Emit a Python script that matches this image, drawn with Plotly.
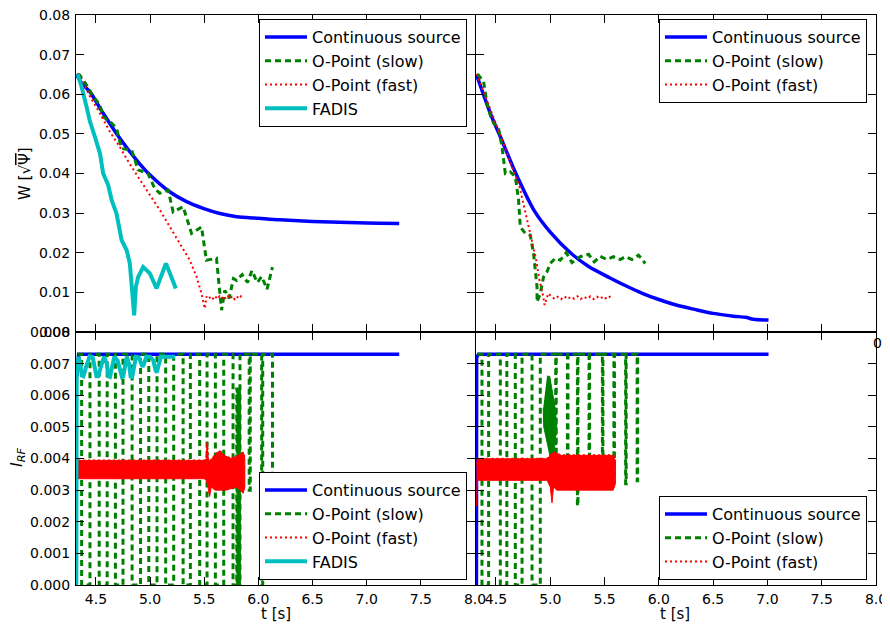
import plotly.graph_objects as go

# ---------------- data: W (top panels) ----------------
# left panel
contL_W_t = [4.319, 4.368, 4.445, 4.567, 4.72, 4.875, 5.0, 5.18, 5.337, 5.49, 5.645, 5.80, 6.0, 6.2, 6.5, 7.0, 7.3]
contL_W   = [0.0651, 0.0628, 0.0606, 0.0552, 0.0489, 0.0434, 0.0396, 0.0354, 0.0329, 0.0312, 0.0299, 0.0291, 0.0287, 0.0283, 0.0279, 0.0275, 0.0274]

slowL_W_t = [4.33, 4.352, 4.414, 4.475, 4.537, 4.567, 4.63, 4.69, 4.737, 4.83, 4.89, 4.98, 5.044, 5.09, 5.167,
             5.213, 5.305, 5.383, 5.475, 5.52, 5.613, 5.66, 5.69, 5.73, 5.77, 5.80, 5.85, 5.90, 5.94, 5.99, 6.03, 6.08, 6.13]
slowL_W   = [0.0651, 0.0648, 0.0623, 0.0594, 0.0573, 0.0543, 0.0531, 0.0514, 0.0463, 0.0459, 0.0409, 0.0400, 0.0362, 0.0350, 0.0358,
             0.0303, 0.0316, 0.0249, 0.0265, 0.0181, 0.0186, 0.0055, 0.0105, 0.0085, 0.0135, 0.0130, 0.0145, 0.0125, 0.0155, 0.0125, 0.0140, 0.0108, 0.0164]

fastL_W_t = [4.33, 4.352, 4.445, 4.537, 4.63, 4.72, 4.81, 4.906, 5.0, 5.09, 5.18, 5.275, 5.367, 5.43, 5.475, 5.505,
             5.52, 5.54, 5.56, 5.58, 5.60, 5.62, 5.64, 5.66, 5.68, 5.70, 5.72, 5.74, 5.76, 5.78, 5.80, 5.82, 5.84, 5.86]
fastL_W   = [0.0651, 0.0648, 0.0594, 0.0552, 0.0505, 0.0467, 0.0425, 0.0383, 0.0345, 0.0308, 0.0265, 0.0223, 0.0181, 0.0139, 0.0097, 0.0059,
             0.0089, 0.0083, 0.0090, 0.0084, 0.0091, 0.0083, 0.0090, 0.0084, 0.0091, 0.0083, 0.0090, 0.0084, 0.0091, 0.0083, 0.0090, 0.0084, 0.0090, 0.0087]

fadis_W_t = [4.33, 4.368, 4.414, 4.445, 4.49, 4.537, 4.567, 4.613, 4.645, 4.69, 4.737, 4.783, 4.813, 4.835, 4.853, 4.869,
             4.89, 4.936, 4.998, 5.06, 5.106, 5.146, 5.183, 5.238]
fadis_W   = [0.0651, 0.0619, 0.0568, 0.0531, 0.0493, 0.0451, 0.0400, 0.0371, 0.0333, 0.0299, 0.0232, 0.0207, 0.0173, 0.0114, 0.0042, 0.0114,
             0.0139, 0.0164, 0.0148, 0.0110, 0.0148, 0.0173, 0.0148, 0.0110]

# right panel
contR_W_t = [4.319, 4.448, 4.549, 4.68, 4.855, 5.0, 5.193, 5.35, 5.546, 5.70, 5.853, 6.0, 6.16, 6.33, 6.5, 6.688, 6.80, 6.87, 7.01]
contR_W   = [0.0651, 0.0552, 0.0487, 0.0402, 0.0305, 0.0252, 0.0198, 0.0166, 0.0137, 0.0116, 0.0097, 0.0082, 0.0068, 0.0057, 0.0047, 0.0040, 0.0037, 0.0032, 0.0030]

slowR_W_t = [4.33, 4.386, 4.417, 4.448, 4.478, 4.524, 4.555, 4.586, 4.632, 4.678, 4.708, 4.724, 4.77, 4.816, 4.846, 4.862, 4.878,
             4.878, 4.908, 4.938, 4.97, 5.0, 5.046, 5.092, 5.147, 5.2, 5.276, 5.353, 5.405, 5.46, 5.52, 5.583, 5.645, 5.69, 5.752, 5.813, 5.875]
slowR_W   = [0.0651, 0.0632, 0.0577, 0.0547, 0.0527, 0.0514, 0.0468, 0.0400, 0.0404, 0.0392, 0.0333, 0.0265, 0.0249, 0.0244, 0.0198, 0.0156, 0.0114,
             0.0076, 0.0097, 0.0139, 0.0152, 0.0173, 0.0186, 0.0181, 0.0200, 0.0175, 0.0190, 0.0196, 0.0177, 0.0191, 0.0183, 0.0190, 0.0183, 0.0190, 0.0183, 0.0194, 0.0173]

fastR_W_t = [4.319, 4.417, 4.487, 4.625, 4.717, 4.78, 4.825, 4.871, 4.90, 4.93, 4.948, 4.98, 5.016,
             5.04, 5.07, 5.10, 5.13, 5.16, 5.19, 5.22, 5.25, 5.28, 5.31, 5.34, 5.37, 5.40, 5.43, 5.46, 5.49, 5.52, 5.55, 5.577]
fastR_W   = [0.0651, 0.0585, 0.0535, 0.0434, 0.0366, 0.0291, 0.0240, 0.0181, 0.0131, 0.0097, 0.0068, 0.0097, 0.0089,
             0.0083, 0.0089, 0.0083, 0.0090, 0.0083, 0.0089, 0.0084, 0.0090, 0.0083, 0.0089, 0.0084, 0.0090, 0.0083, 0.0089, 0.0084, 0.0090, 0.0083, 0.0089, 0.0086]

# ---------------- data: I_RF (bottom panels) ----------------
contL_I_t = [4.325, 4.33, 4.34, 7.30]
contL_I   = [0.0066, 0.0070, 0.0073, 0.0073]
contR_I_t = [4.32, 4.322, 4.34, 7.01]
contR_I   = [0.0, 0.0072, 0.0073, 0.0073]

# slow O-point: start level, switch times and level after each switch
slowL_I_start = (4.33, 0.0073)
slowL_I_t = [4.368, 4.445, 4.53, 4.604, 4.68, 4.75, 4.834, 4.912, 4.988, 5.064, 5.144, 5.218, 5.305, 5.372, 5.458, 5.526,
             5.603, 5.68, 5.766, 5.80, 5.805, 5.81, 5.815, 5.82, 5.825, 5.83, 5.915, 5.925, 6.03, 6.04, 6.13]
slowL_I   = [0.0, 0.0073, 0.0, 0.0073, 0.0, 0.0073, 0.0, 0.0073, 0.0, 0.0073, 0.0, 0.0073, 0.0, 0.0073, 0.0, 0.0073,
             0.0, 0.0073, 0.0, 0.0062, 0.0, 0.0062, 0.0, 0.0062, 0.0, 0.0073, 0.0030, 0.0073, 0.0, 0.0073, 0.0033]

slowR_I_start = (4.33, 0.0073)
slowR_I_t = [4.371, 4.432, 4.54, 4.60, 4.678, 4.74, 4.832, 4.908, 5.05, 5.055, 5.158, 5.163, 5.25, 5.255, 5.357, 5.362,
             5.48, 5.485, 5.586, 5.591, 5.694, 5.699, 5.80, 5.805]
slowR_I   = [0.0, 0.0073, 0.0, 0.0073, 0.0, 0.0073, 0.0, 0.0073, 0.0036, 0.0073, 0.0036, 0.0073, 0.0025, 0.0073, 0.0036, 0.0073,
             0.0036, 0.0073, 0.0035, 0.0073, 0.0032, 0.0073, 0.0033, 0.0073]
# dense oscillation envelope of the slow O-point near t = 5.0 (right panel)
slowR_burst_t = [4.97, 4.995, 5.045, 5.06, 5.035, 5.016, 4.99, 4.94, 4.935]
slowR_burst   = [0.0066, 0.0066, 0.0056, 0.0050, 0.0042, 0.0037, 0.0042, 0.0050, 0.0056]

# fast O-point: envelope of the noisy band
fastL_up_t = [4.322, 4.33, 5.50, 5.52, 5.527, 5.535, 5.55, 5.57, 5.60, 5.644, 5.68, 5.75, 5.82, 5.86, 5.875]
fastL_up   = [0.0038, 0.00394, 0.00394, 0.0040, 0.0045, 0.0040, 0.0039, 0.0040, 0.0041, 0.00425, 0.0041, 0.0040, 0.0041, 0.0042, 0.0040]
fastL_lo_t = [4.322, 4.33, 5.50, 5.52, 5.535, 5.55, 5.565, 5.60, 5.70, 5.80, 5.86, 5.875]
fastL_lo   = [0.0, 0.00336, 0.00336, 0.0033, 0.0031, 0.0028, 0.0031, 0.0030, 0.0030, 0.0031, 0.0029, 0.0031]

fastR_up_t = [4.32, 4.33, 4.97, 5.0, 5.03, 5.1, 5.3, 5.5, 5.58, 5.60]
fastR_up   = [0.0038, 0.00399, 0.00399, 0.0041, 0.0042, 0.0041, 0.0041, 0.0041, 0.0041, 0.0039]
fastR_lo_t = [4.32, 4.33, 4.97, 5.0, 5.016, 5.03, 5.06, 5.3, 5.5, 5.58, 5.60]
fastR_lo   = [0.0025, 0.00331, 0.00331, 0.0031, 0.0026, 0.0031, 0.0030, 0.0030, 0.0030, 0.0030, 0.0032]

fadis_I_t = [4.319, 4.322, 4.34, 4.355, 4.37, 4.385, 4.41, 4.44, 4.47, 4.49, 4.505, 4.52, 4.545, 4.575, 4.60, 4.615, 4.63,
             4.645, 4.67, 4.70, 4.725, 4.74, 4.752, 4.765, 4.785, 4.805, 4.82, 4.835, 4.85, 4.87, 4.895, 4.915, 4.93, 4.945,
             4.965, 5.00, 5.03, 5.05, 5.062, 5.075, 5.10, 5.23]
fadis_I   = [0.0, 0.0066, 0.00722, 0.0070, 0.00662, 0.0066, 0.0069, 0.00722, 0.0072, 0.0069, 0.0066, 0.0066, 0.0069, 0.00722,
             0.0070, 0.0066, 0.00658, 0.0068, 0.00722, 0.0071, 0.0067, 0.00658, 0.0066, 0.0069, 0.00722, 0.0070, 0.0066, 0.00658,
             0.0068, 0.00722, 0.0072, 0.0070, 0.0069, 0.0070, 0.00722, 0.00722, 0.0071, 0.0068, 0.00672, 0.0069, 0.00722, 0.00722]

names = ["Continuous source", "O-Point (slow)", "O-Point (fast)", "FADIS"]

# ---------------- styles ----------------
BLUE, GREEN, RED, CYAN = "#0000FF", "#008000", "#FF0000", "#00BFBF"
FONT = "DejaVu Sans"
ST_CONT = dict(color=BLUE, width=3.5, shape="spline", smoothing=0.8)
ST_CONT_I = dict(color=BLUE, width=3.5)
ST_SLOW = dict(color=GREEN, width=3, dash="6px,4px")
ST_FAST = dict(color=RED, width=2, dash="2px,3px")
ST_FADIS = dict(color=CYAN, width=4)


def square_path(start, ts, levels):
    xs, ys = [start[0]], [start[1]]
    prev = start[1]
    for t, lv in zip(ts, levels):
        xs += [t, t]
        ys += [prev, lv]
        prev = lv
    return xs, ys


def band(up_t, up, lo_t, lo):
    return up_t + lo_t[::-1], up + lo[::-1]


fig = go.Figure()


def line(x, y, xa, ya, name, style, legend, show=True):
    fig.add_trace(go.Scatter(x=x, y=y, mode="lines", name=name, line=style,
                             xaxis=xa, yaxis=ya, legend=legend, showlegend=show))


def fill(x, y, xa, ya, color):
    fig.add_trace(go.Scatter(x=x, y=y, mode="lines", fill="toself", fillcolor=color,
                             line=dict(color=color, width=1), xaxis=xa, yaxis=ya, showlegend=False))


# top-left
line(contL_W_t, contL_W, "x", "y", names[0], ST_CONT, "legend")
line(slowL_W_t, slowL_W, "x", "y", names[1], ST_SLOW, "legend")
line(fastL_W_t, fastL_W, "x", "y", names[2], ST_FAST, "legend")
line(fadis_W_t, fadis_W, "x", "y", names[3], ST_FADIS, "legend")

# top-right
line(contR_W_t, contR_W, "x2", "y2", names[0], ST_CONT, "legend2")
line(slowR_W_t, slowR_W, "x2", "y2", names[1], ST_SLOW, "legend2")
line(fastR_W_t, fastR_W, "x2", "y2", names[2], ST_FAST, "legend2")

# bottom-left
line(contL_I_t, contL_I, "x3", "y3", names[0], ST_CONT_I, "legend3")
sx, sy = square_path(slowL_I_start, slowL_I_t, slowL_I)
line(sx, sy, "x3", "y3", names[1], ST_SLOW, "legend3")
line(fastL_up_t, fastL_up, "x3", "y3", names[2], ST_FAST, "legend3")
bx, by = band(fastL_up_t, fastL_up, fastL_lo_t, fastL_lo)
fill(bx, by, "x3", "y3", RED)
line(fadis_I_t, fadis_I, "x3", "y3", names[3], ST_FADIS, "legend3")

# bottom-right
line(contR_I_t, contR_I, "x4", "y4", names[0], ST_CONT_I, "legend4")
sx, sy = square_path(slowR_I_start, slowR_I_t, slowR_I)
line(sx, sy, "x4", "y4", names[1], ST_SLOW, "legend4")
fill(slowR_burst_t, slowR_burst, "x4", "y4", GREEN)
line(fastR_up_t, fastR_up, "x4", "y4", names[2], ST_FAST, "legend4")
bx, by = band(fastR_up_t, fastR_up, fastR_lo_t, fastR_lo)
fill(bx, by, "x4", "y4", RED)

# ---------------- layout ----------------
# the page body has an 8 px margin, so the figure is offset by it inside the window;
# the height is kept so that the page does not overflow vertically (no scrollbar)
OFF = 8
W, H = 890 - OFF, 630 - 2 * OFF


def px(p):
    return (p - OFF) / W


def py(p):
    return 1 - (p - OFF) / H


XL = [px(76), px(475)]
XR = [px(476), px(876)]
YT = [py(332), py(15)]
YB = [py(585), py(332)]
XRANGE = [4.316, 8.0]

ax_common = dict(showline=True, linecolor="black", linewidth=1, mirror="allticks", ticks="inside",
                 ticklen=8, tickwidth=1, tickcolor="black", showgrid=False, zeroline=False,
                 automargin=False, ticklabeloverflow="allow",
                 tickfont=dict(family=FONT, size=14, color="black"))


def xax(domain, anchor, labels):
    return dict(ax_common, domain=domain, anchor=anchor, range=XRANGE, tick0=4.5, dtick=0.5,
                tickformat=".1f", showticklabels=labels, ticklabelstandoff=1)


def yax(domain, anchor, rng, dt, fmt, labels):
    return dict(ax_common, domain=domain, anchor=anchor, range=rng, tick0=0, dtick=dt,
                tickformat=fmt, showticklabels=labels, ticklabelstandoff=2)


leg_common = dict(bgcolor="white", bordercolor="black", borderwidth=1, xanchor="right",
                  font=dict(family=FONT, size=16, color="black"), tracegroupgap=0, itemwidth=42)


def ann(text, x, y, size, angle=0):
    return dict(text=text, textangle=angle, x=px(x), y=py(y), xref="paper", yref="paper",
                xanchor="center", yanchor="middle", showarrow=False,
                font=dict(family=FONT, size=size, color="black"))


fig.update_layout(
    width=W, height=H, margin=dict(l=0, r=0, t=0, b=0, pad=0, autoexpand=False),
    paper_bgcolor="white", plot_bgcolor="white",
    font=dict(family=FONT, size=14, color="black"),
    xaxis=xax(XL, "y", False), yaxis=yax(YT, "x", [0, 0.08], 0.01, ".2f", True),
    xaxis2=xax(XR, "y2", False), yaxis2=yax(YT, "x2", [0, 0.08], 0.01, ".2f", False),
    xaxis3=xax(XL, "y3", True), yaxis3=yax(YB, "x3", [0, 0.008], 0.001, ".3f", True),
    xaxis4=xax(XR, "y4", True), yaxis4=yax(YB, "x4", [0, 0.008], 0.001, ".3f", False),
    legend=dict(leg_common, x=px(467), y=py(19), yanchor="top"),
    legend2=dict(leg_common, x=px(867), y=py(19), yanchor="top"),
    legend3=dict(leg_common, x=px(467), y=py(580), yanchor="bottom"),
    legend4=dict(leg_common, x=px(867), y=py(580), yanchor="bottom"),
    annotations=[
        ann("W [√<span style='text-decoration:overline'>Ψ</span>]", 25, 174, 15, -90),
        ann("<i>I</i><sub><i>RF</i></sub>", 17, 458, 16, -90),
        ann("t [s]", 276, 614, 15),
        ann("t [s]", 675, 614, 15),
        ann("0", 877, 343, 14),
    ],
)

fig.write_html("out.html", default_width=f"{W}px", default_height=f"{H}px")
